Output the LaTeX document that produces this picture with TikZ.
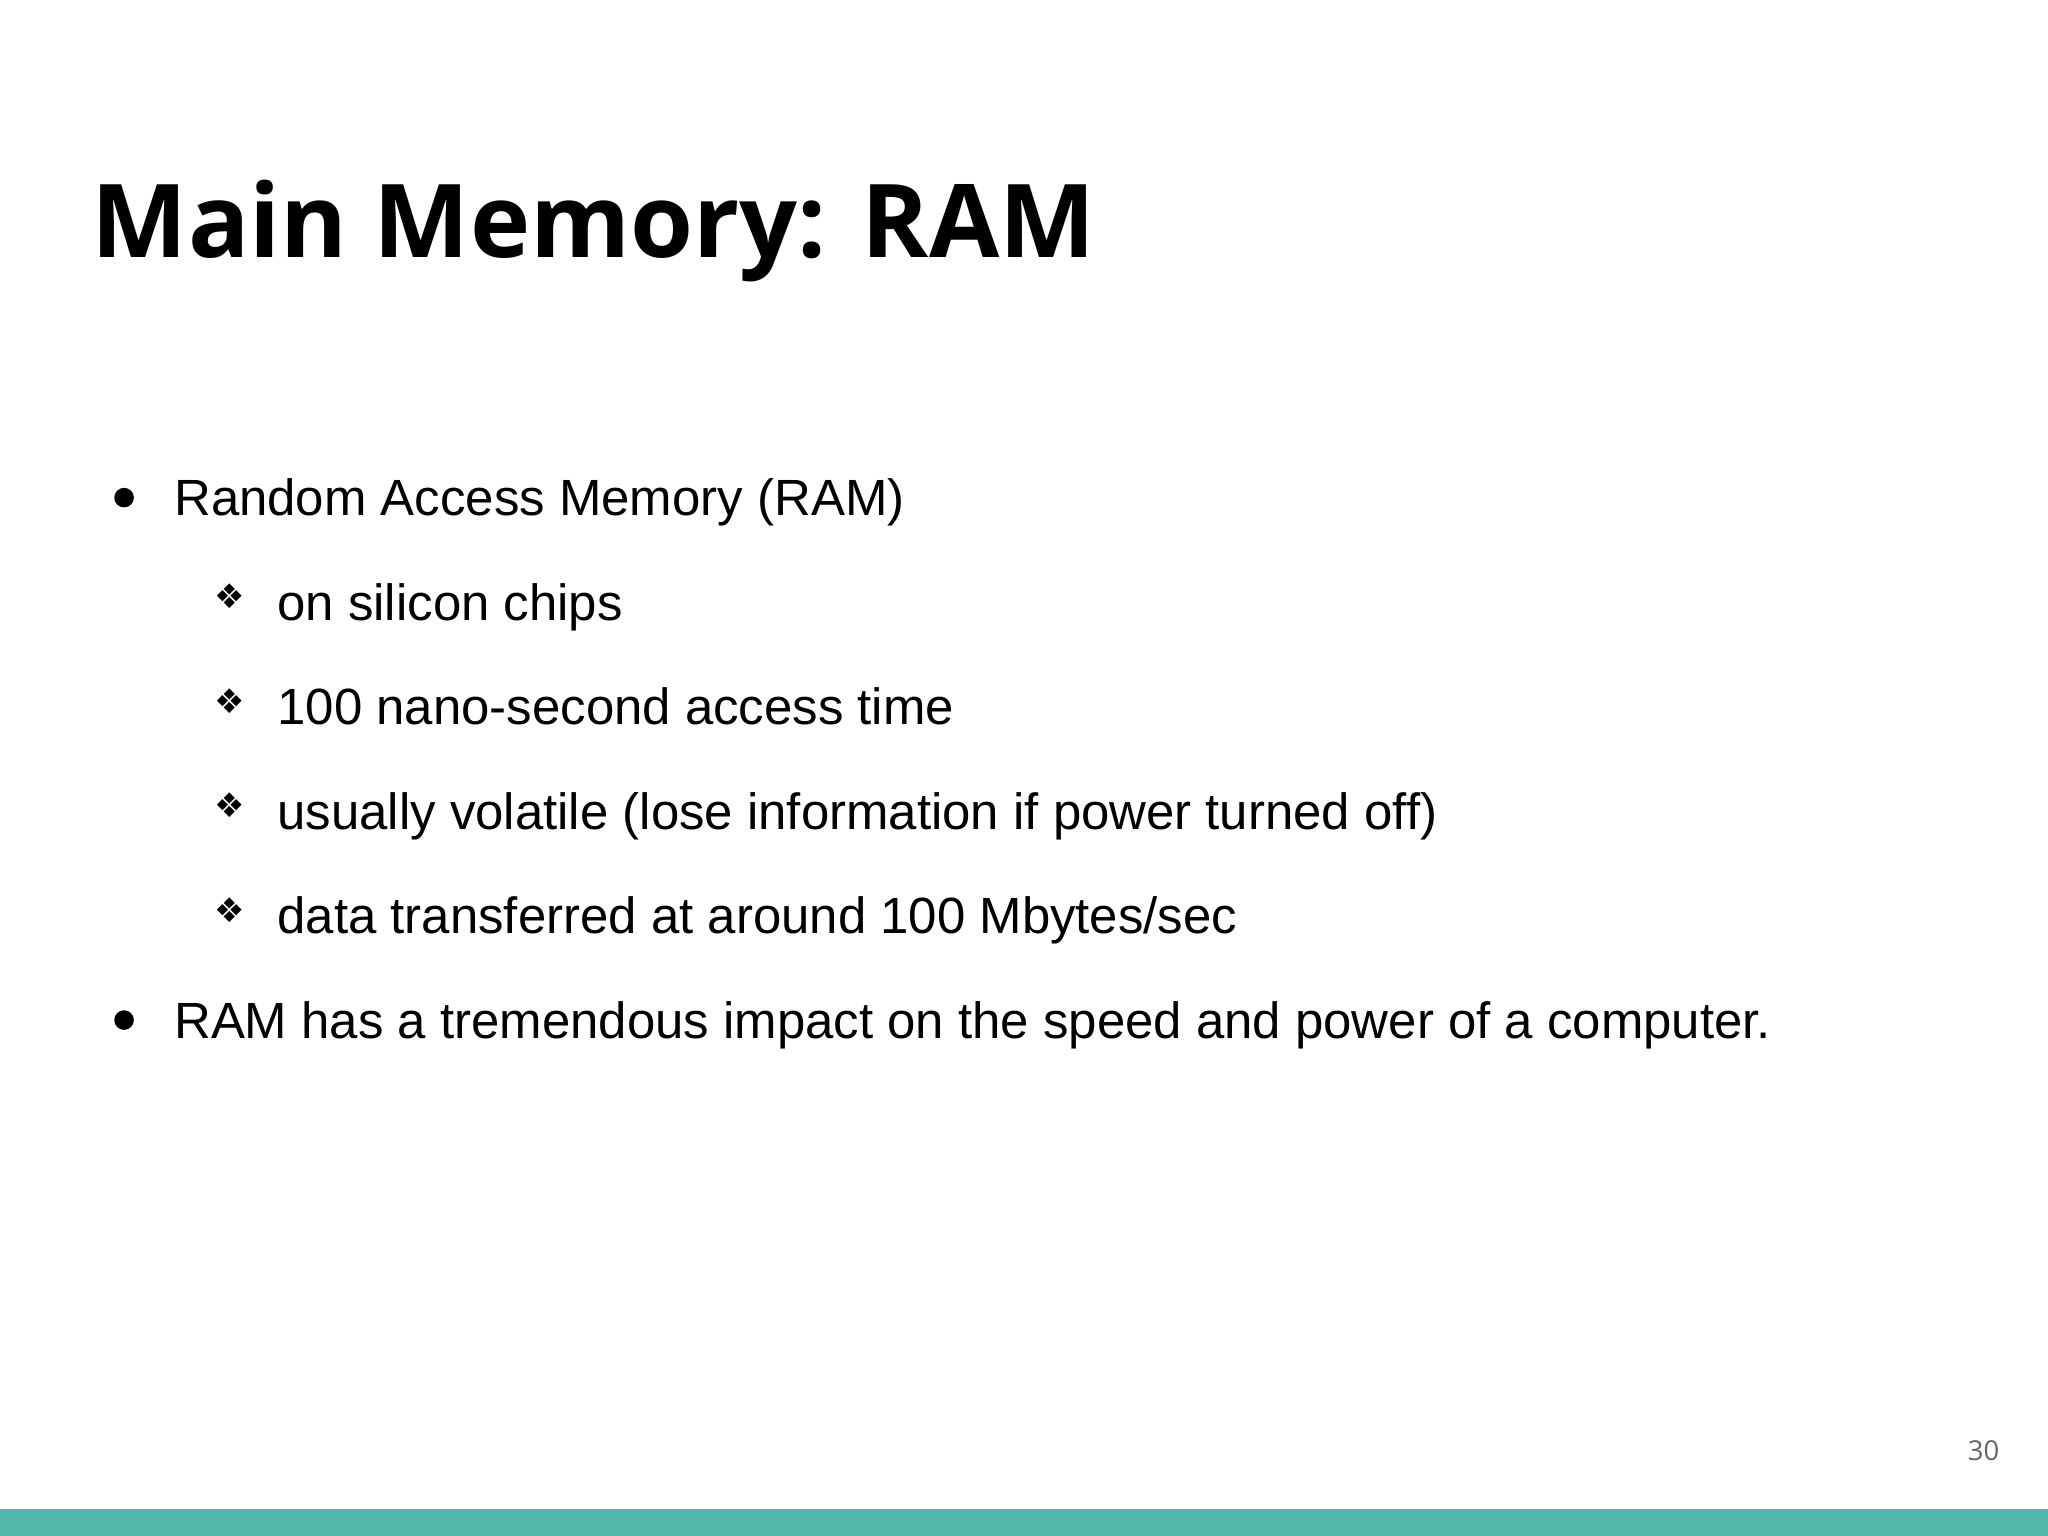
\documentclass[tikz,border=0pt]{standalone}
\usepackage{fontspec}
\setmainfont{Liberation Sans}
\newfontfamily\titlef{Open Sans}
\newfontfamily\dvs{DejaVu Sans}
\definecolor{teal1}{RGB}{80,183,170}
\definecolor{numc}{RGB}{100,100,100}
\begin{document}
\begin{tikzpicture}[x=0.5pt,y=-0.5pt,
  txt/.style={anchor=base west,inner sep=0pt,font=\fontsize{19.5}{24}\selectfont},
  bul/.style={circle,fill=black,inner sep=0pt,minimum size=7.5pt},
  sub/.style={anchor=base,inner sep=0pt,font=\dvs\fontsize{13}{15}\selectfont}]
\useasboundingbox (0,0) rectangle (1568,1176);
\fill[teal1] (0,1155) rectangle (1568,1176);
\node[anchor=base west,inner sep=0pt,font=\titlef\bfseries\fontsize{39}{46}\selectfont] (title) at (70,197) {Main Memory: RAM};
\node[bul] (b1) at (95,381) {};
\node[txt] (t1) at (133,395) {Random Access Memory (RAM)};
\node[sub] (s1) at (176,466) {❖};
\node[txt] (t2) at (212,475) {on silicon chips};
\node[sub] (s2) at (176,546) {❖};
\node[txt] (t3) at (212,555) {100 nano-second access time};
\node[sub] (s3) at (176,626) {❖};
\node[txt] (t4) at (212,635) {usually volatile (lose information if power turned off)};
\node[sub] (s4) at (176,706) {❖};
\node[txt] (t5) at (212,715) {data transferred at around 100 Mbytes/sec};
\node[bul] (b2) at (95,781) {};
\node[txt] (t6) at (133,795) {RAM has a tremendous impact on the speed and power of a computer.};
\node[anchor=base east,inner sep=0pt,text=numc,font=\titlef\fontsize{10.5}{12}\selectfont] (num) at (1531,1118) {30};
\end{tikzpicture}
\end{document}
